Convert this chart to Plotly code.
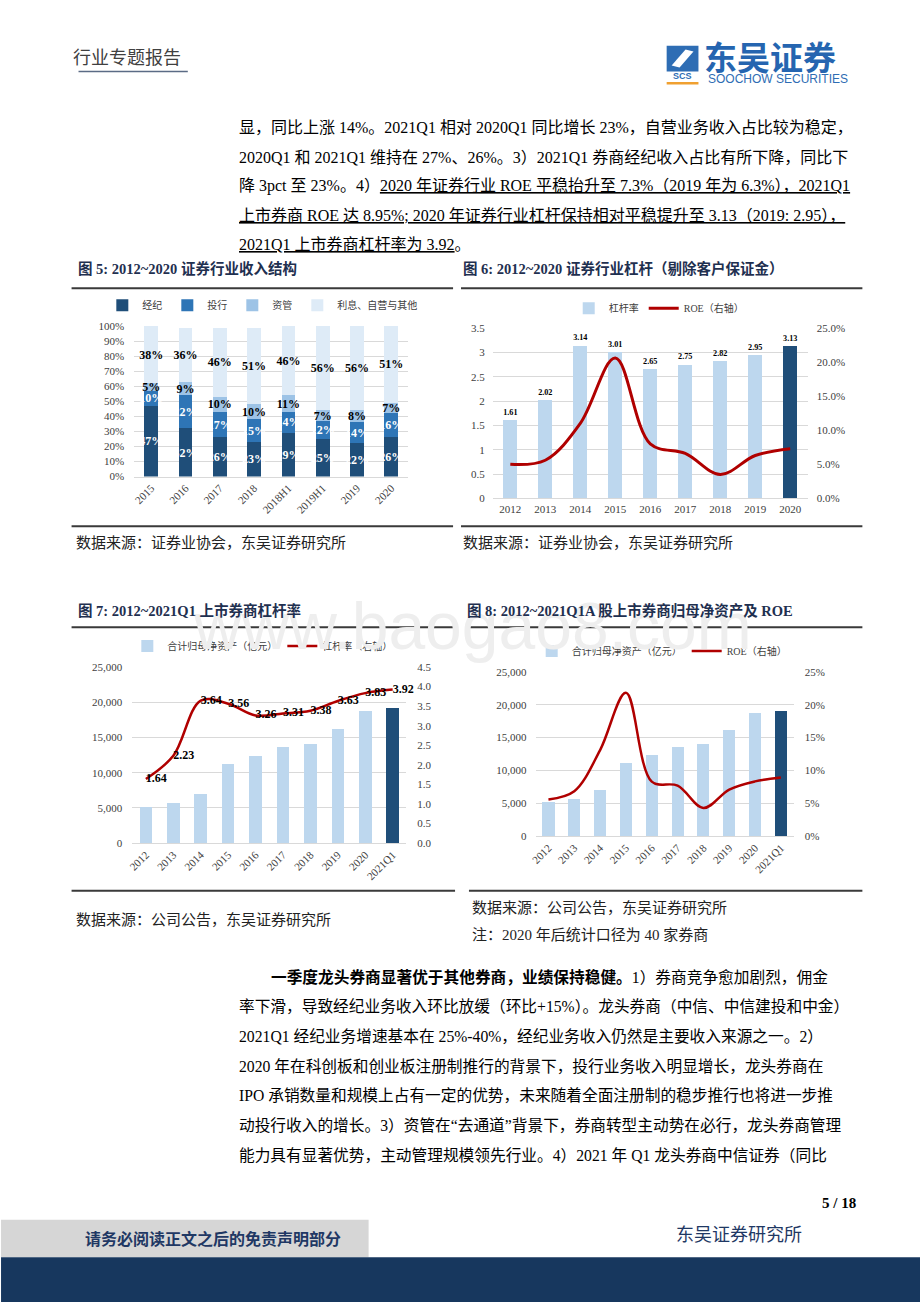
import plotly.graph_objects as go

W, H = 920, 1302
SERIF = "Liberation Serif, Noto Sans CJK SC, serif"
SANS = "Liberation Sans, Noto Sans CJK SC, sans-serif"
NAVY = "#1F4E79"
LIGHT = "#BDD7EE"
RED = "#B00000"
GRID = "#D9D9D9"
TICK = dict(family=SERIF, size=11, color="#404040")

# ---------------- data ----------------
# Figure 5: industry revenue structure (%)
c5_cats = ["2015", "2016", "2017", "2018", "2018H1", "2019H1", "2019", "2020"]
c5_brokerage = [47, 32, 26, 23, 29, 25, 22, 26]
c5_ib = [10, 22, 17, 15, 14, 12, 14, 16]
c5_am = [5, 9, 10, 10, 11, 7, 8, 7]
c5_other = [38, 36, 46, 51, 46, 56, 56, 51]
c5_names = ["经纪", "投行", "资管", "利息、自营与其他"]

# Figure 6: industry leverage and ROE
c6_years = ["2012", "2013", "2014", "2015", "2016", "2017", "2018", "2019", "2020"]
c6_leverage = [1.61, 2.02, 3.14, 3.01, 2.65, 2.75, 2.82, 2.95, 3.13]
c6_roe = [5.0, 5.6, 11.0, 20.6, 8.0, 6.6, 3.5, 6.3, 7.3]

# Figures 7 & 8: listed brokers
c78_periods = ["2012", "2013", "2014", "2015", "2016", "2017", "2018", "2019", "2020", "2021Q1"]
c78_net_assets = [5200, 5650, 7000, 11200, 12300, 13600, 14050, 16200, 18700, 19100]
c7_leverage = [1.64, 2.23, 3.64, 3.56, 3.26, 3.31, 3.38, 3.63, 3.83, 3.92]
c8_roe = [5.6, 6.85, 13.1, 21.8, 8.3, 7.7, 4.3, 7.1, 8.35, 8.95]


def px(x):
    return x / W


def py(y):
    return 1 - y / H


fig = go.Figure()

# ---------------- chart 5 ----------------
c5_series = [c5_brokerage, c5_ib, c5_am, c5_other]
c5_colors = ["#1F4E79", "#2E75B6", "#9DC3E6", "#DEEBF7"]
c5_textcolors = ["white", "white", "black", "black"]
for name, vals, col, tcol in zip(c5_names, c5_series, c5_colors, c5_textcolors):
    fig.add_trace(go.Bar(
        x=c5_cats, y=vals, name=name, width=0.4,
        marker=dict(color=col, line=dict(width=0)),
        text=[f"{v}%" for v in vals], textposition="inside",
        insidetextanchor="middle", textangle=0, constraintext="none",
        textfont=dict(family=SERIF, size=12, color=tcol, weight="bold"),
        xaxis="x", yaxis="y", legend="legend", hoverinfo="skip"))

# ---------------- chart 6 ----------------
c6_colors = [LIGHT] * (len(c6_years) - 1) + [NAVY]
fig.add_trace(go.Bar(
    x=c6_years, y=c6_leverage, name="杠杆率", width=0.41,
    marker=dict(color=c6_colors, line=dict(width=0)),
    text=[f"{v:.2f}" for v in c6_leverage], textposition="outside",
    textfont=dict(family=SERIF, size=12, color="black", weight="bold"),
    cliponaxis=False, xaxis="x2", yaxis="y2", legend="legend2"))
fig.add_trace(go.Scatter(
    x=c6_years, y=c6_roe, name="ROE（右轴）", mode="lines",
    line=dict(color=RED, width=3, shape="spline", smoothing=1.0),
    xaxis="x2", yaxis="y3", legend="legend2"))

# ---------------- chart 7 ----------------
c78_colors = [LIGHT] * (len(c78_periods) - 1) + [NAVY]
fig.add_trace(go.Bar(
    x=c78_periods, y=c78_net_assets, name="合计归母净资产（亿元）", width=0.46,
    marker=dict(color=c78_colors, line=dict(width=0)),
    xaxis="x3", yaxis="y4", legend="legend3"))
fig.add_trace(go.Scatter(
    x=c78_periods, y=c7_leverage, name="杠杆率（右轴）", mode="lines+text",
    line=dict(color=RED, width=2.5, shape="spline", smoothing=1.0),
    text=[f"{v:.2f}" for v in c7_leverage], textposition="middle right",
    textfont=dict(family=SERIF, size=12, color="black", weight="bold"),
    cliponaxis=False, xaxis="x3", yaxis="y5", legend="legend3"))

# ---------------- chart 8 ----------------
fig.add_trace(go.Bar(
    x=c78_periods, y=c78_net_assets, name="合计归母净资产（亿元）", width=0.47,
    marker=dict(color=c78_colors, line=dict(width=0)),
    xaxis="x4", yaxis="y6", legend="legend4"))
fig.add_trace(go.Scatter(
    x=c78_periods, y=c8_roe, name="ROE（右轴）", mode="lines",
    line=dict(color=RED, width=2.5, shape="spline", smoothing=1.0),
    xaxis="x4", yaxis="y7", legend="legend4"))


def xax(x0, x1, y_anchor, angle):
    return dict(domain=[px(x0), px(x1)], anchor=y_anchor, type="category",
                tickangle=angle, tickfont=TICK, showgrid=False, showline=True,
                linecolor=GRID, linewidth=1, ticks="", zeroline=False, fixedrange=True)


def yax(ytop, ybot, x_anchor, rng, dtick, fmt="", suffix="", side="left",
        overlaying=None, grid=True, standoff=8):
    d = dict(domain=[py(ybot), py(ytop)], anchor=x_anchor, range=rng, dtick=dtick,
             tickformat=fmt, ticksuffix=suffix, side=side, tickfont=TICK,
             showgrid=grid, gridcolor=GRID, gridwidth=1, zeroline=False,
             showline=False, ticks="", ticklabelstandoff=standoff, fixedrange=True)
    if overlaying:
        d["overlaying"] = overlaying
    return d


def leg(cx, cy):
    return dict(x=px(cx), y=py(cy), xanchor="center", yanchor="middle",
                orientation="h", traceorder="normal",
                font=dict(family=SERIF, size=10, color="#404040"),
                bgcolor="rgba(0,0,0,0)", itemwidth=30)


fig.update_layout(
    width=W, height=H, margin=dict(l=0, r=0, t=0, b=0),
    paper_bgcolor="white", plot_bgcolor="white",
    barmode="stack", showlegend=True,
    xaxis=xax(129, 405, "y", -45),
    yaxis=yax(323, 475, "x", [0, 100], 10, fmt="d", suffix="%", standoff=9),
    xaxis2=xax(490, 807, "y2", 0),
    yaxis2=yax(325, 497, "x2", [0, 3.5], 0.5, standoff=7),
    yaxis3=yax(325, 497, "x2", [0, 25], 5, fmt=".1f", suffix="%", side="right",
               overlaying="y2", grid=False, standoff=8),
    xaxis3=xax(127, 403, "y4", -45),
    yaxis4=yax(667, 845, "x3", [0, 25000], 5000, fmt=",", standoff=9),
    yaxis5=yax(667, 845, "x3", [0, 4.5], 0.5, fmt=".1f", side="right",
               overlaying="y4", grid=False, standoff=10),
    xaxis4=xax(533, 793, "y6", -45),
    yaxis6=yax(672, 838, "x4", [0, 25000], 5000, fmt=",", standoff=8),
    yaxis7=yax(672, 838, "x4", [0, 25], 5, fmt="d", suffix="%", side="right",
               overlaying="y6", grid=False, standoff=10),
    legend=leg(258, 302),
    legend2=leg(657, 305),
    legend3=leg(258, 646),
    legend4=leg(660, 651),
)

ann = []
LEFT_FIX = 6  # left-anchored annotation text renders slightly right of its anchor


def text(x, y, s, size=16, color="black", anchor="left", bold=False, family=SERIF, fix=True):
    if anchor == "left" and fix:
        x = x - LEFT_FIX
    ann.append(dict(x=px(x), y=py(y), xref="paper", yref="paper", text=s,
                    showarrow=False, xanchor=anchor, yanchor="middle", align=anchor,
                    borderpad=0, borderwidth=0,
                    font=dict(family=family, size=size, color=color,
                              weight="bold" if bold else "normal")))


# watermark (drawn first)
text(470, 626, "www.baogao8.com", size=66, color="#EEEEEE", anchor="center", family=SANS)

# header
text(73, 52, "行业专题报告", size=18, color="#404040")
text(703, 53, "东吴证券", size=33, color="#2565B0", bold=True, family=SANS, fix=False)
text(707, 74, "SOOCHOW SECURITIES", size=12, color="#2E6DB4", family=SANS, fix=False)
text(681, 71, "SCS", size=9, color="#2E6DB4", bold=True, family=SANS, anchor="center")

# top paragraph
top_lines = [
    "显，同比上涨 14%。2021Q1 相对 2020Q1 同比增长 23%，自营业务收入占比较为稳定，",
    "2020Q1 和 2021Q1 维持在 27%、26%。3）2021Q1 券商经纪收入占比有所下降，同比下",
    "降 3pct 至 23%。4）<u>2020 年证券行业 ROE 平稳抬升至 7.3%（2019 年为 6.3%），2021Q1</u>",
    "<u>上市券商 ROE 达 8.95%; 2020 年证券行业杠杆保持相对平稳提升至 3.13（2019: 2.95），</u>",
    "<u>2021Q1 上市券商杠杆率为 3.92</u>。",
]
for i, s in enumerate(top_lines):
    text(241, 123 + i * 29.5, s, size=16)

# figure titles / sources
TITLE = "#1F3050"
SRC = "#222222"
text(78, 265, "图 5: 2012~2020 证券行业收入结构", size=14.5, color=TITLE, bold=True)
text(466, 265, "图 6: 2012~2020 证券行业杠杆（剔除客户保证金）", size=14.5, color=TITLE, bold=True)
text(76, 542, "数据来源：证券业协会，东吴证券研究所", size=15, color=SRC)
text(466, 542, "数据来源：证券业协会，东吴证券研究所", size=15, color=SRC)
text(78, 610, "图 7: 2012~2021Q1 上市券商杠杆率", size=14.5, color=TITLE, bold=True)
text(470, 610, "图 8: 2012~2021Q1A 股上市券商归母净资产及 ROE", size=14.5, color=TITLE, bold=True)
text(76, 922, "数据来源：公司公告，东吴证券研究所", size=15, color=SRC)
text(475, 910, "数据来源：公司公告，东吴证券研究所", size=15, color=SRC)
text(475, 938, "注：2020 年后统计口径为 40 家券商", size=15, color=SRC)

# bottom paragraph
bottom_lines = [
    "<b>一季度龙头券商显著优于其他券商，业绩保持稳健。</b>1）券商竞争愈加剧烈，佣金",
    "率下滑，导致经纪业务收入环比放缓（环比+15%）。龙头券商（中信、中信建投和中金）",
    "2021Q1 经纪业务增速基本在 25%-40%，经纪业务收入仍然是主要收入来源之一。2）",
    "2020 年在科创板和创业板注册制推行的背景下，投行业务收入明显增长，龙头券商在",
    "IPO 承销数量和规模上占有一定的优势，未来随着全面注册制的稳步推行也将进一步推",
    "动投行收入的增长。3）资管在“去通道”背景下，券商转型主动势在必行，龙头券商管理",
    "能力具有显著优势，主动管理规模领先行业。4）2021 年 Q1 龙头券商中信证券（同比",
]
for i, s in enumerate(bottom_lines):
    text(273 if i == 0 else 241, 980 + i * 30, s, size=15.7)

# footer
text(856, 1208, "5 / 18", size=15, bold=True, anchor="right")
text(680, 1240, "东吴证券研究所", size=18, color="#1F3864")
text(208, 1244, "请务必阅读正文之后的免责声明部分", size=16, color="#1F3864", bold=True, anchor="center")

shapes = []


def hline(x0, x1, y, color="#3A3A3A", width=2):
    shapes.append(dict(type="line", xref="paper", yref="paper",
                       x0=px(x0), x1=px(x1), y0=py(y), y1=py(y),
                       line=dict(color=color, width=width)))


def rect(x0, y0, x1, y1, color):
    shapes.append(dict(type="rect", xref="paper", yref="paper",
                       x0=px(x0), x1=px(x1), y0=py(y1), y1=py(y0),
                       fillcolor=color, line=dict(width=0), layer="below"))


hline(73, 183, 66, color="#5B6B85", width=1.5)
hline(66, 450, 285)
hline(458, 862, 285)
hline(66, 450, 525)
hline(458, 862, 525)
hline(66, 452, 627)
hline(466, 862, 627)
hline(66, 452, 893)
hline(466, 862, 893)

# logo icon
rect(665, 40, 697, 66, "#2E6DB4")
shapes.append(dict(type="path", xref="paper", yref="paper",
                   path=f"M {px(670)},{py(60)} L {px(684)},{py(44)} L {px(692)},{py(46)} "
                        f"L {px(678)},{py(62)} Z",
                   fillcolor="white", line=dict(width=0)))
hline(665, 697, 78, color="#F0A030", width=2.5)

# footer blocks
rect(-5, 1225, 365, 1263, "#D6D6D6")
rect(-5, 1263, 925, 1310, "#17375E")

fig.update_layout(annotations=ann, shapes=shapes)
fig.write_html("out.html", config={"displayModeBar": False},
               post_script="document.body.style.margin='0';document.body.style.overflow='hidden';")
